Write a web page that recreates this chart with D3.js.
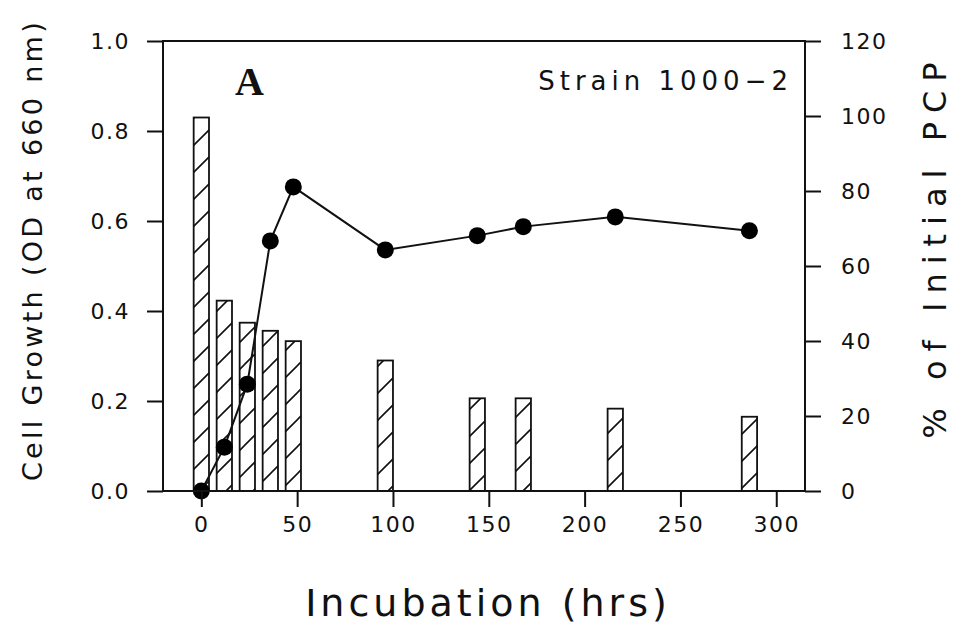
<!DOCTYPE html>
<html lang="en">
<head>
  <meta charset="UTF-8">
  <title>Strain 1000-2 growth and PCP</title>
  <script src="https://d3js.org/d3.v7.min.js"></script>
  <style>
    body {
      margin: 0;
      padding: 0;
      background-color: #fff;
    }
    svg text {
      font-family: "DejaVu Sans", sans-serif;
      fill: #111;
    }
  </style>
</head>
<body>
  <svg id="chart"></svg>

  <script>
    // values
    const hours = [0, 12, 24, 36, 48, 96, 144, 168, 216, 286];
    const cellGrowth = [0.830, 0.423, 0.374, 0.356, 0.333, 0.290, 0.206, 0.206, 0.183, 0.165];
    const pcpPercent = [0, 11.7, 28.5, 66.7, 81.1, 64.3, 68.1, 70.5, 73.1, 69.4];

    const xTicks = [0, 50, 100, 150, 200, 250, 300];
    const leftTicks = [0, 0.2, 0.4, 0.6, 0.8, 1.0];
    const rightTicks = [0, 20, 40, 60, 80, 100, 120];

    document.addEventListener("DOMContentLoaded", function() {
      const width = 959, height = 635;
      const margin = {top: 41, right: 154, bottom: 144, left: 163};
      const plotW = width - margin.left - margin.right;
      const plotH = height - margin.top - margin.bottom;

      const svg = d3.select("#chart")
                    .attr("width", width)
                    .attr("height", height);

      // hatch fill for the bars
      const defs = svg.append("defs");
      const pat = defs.append("pattern")
        .attr("id", "hatch")
        .attr("patternUnits", "userSpaceOnUse")
        .attr("width", 27)
        .attr("height", 27);
      pat.append("rect").attr("width", 27).attr("height", 27).attr("fill", "#fff");
      pat.append("path")
        .attr("d", "M0,27 L27,0 M-4,4 L4,-4 M23,31 L31,23")
        .attr("stroke", "#111")
        .attr("stroke-width", 1.6);

      const g = svg.append("g")
                   .attr("transform", `translate(${margin.left},${margin.top})`);

      const x = d3.scaleLinear().domain([-20, 315]).range([0, plotW]);
      const yLeft = d3.scaleLinear().domain([0, 1.0]).range([plotH, 0]);
      const yRight = d3.scaleLinear().domain([0, 120]).range([plotH, 0]);

      const barW = 8; // hours

      // bars: cell growth
      g.selectAll("rect.bar")
        .data(hours)
        .enter().append("rect")
        .attr("class", "bar")
        .attr("x", (d) => x(d - barW / 2))
        .attr("y", (d, i) => yLeft(cellGrowth[i]))
        .attr("width", x(barW / 2) - x(-barW / 2))
        .attr("height", (d, i) => plotH - yLeft(cellGrowth[i]))
        .attr("fill", "url(#hatch)")
        .attr("stroke", "#111")
        .attr("stroke-width", 1.8);

      // line + dots: % of initial PCP
      const pts = hours.map((h, i) => [h, pcpPercent[i]]);
      const line = d3.line()
        .x(d => x(d[0]))
        .y(d => yRight(d[1]));

      g.append("path")
        .datum(pts)
        .attr("d", line)
        .attr("fill", "none")
        .attr("stroke", "#111")
        .attr("stroke-width", 2);

      g.selectAll("circle.dot")
        .data(pts)
        .enter().append("circle")
        .attr("class", "dot")
        .attr("cx", d => x(d[0]))
        .attr("cy", d => yRight(d[1]))
        .attr("r", 8.5)
        .attr("fill", "#000");

      // axes
      const tickLen = 16;
      const xAxis = g.append("g")
        .attr("transform", `translate(0,${plotH})`)
        .call(d3.axisBottom(x).tickValues(xTicks).tickSize(tickLen).tickPadding(9));
      const leftAxis = g.append("g")
        .call(d3.axisLeft(yLeft).tickValues(leftTicks).tickSize(tickLen)
              .tickPadding(17).tickFormat(d3.format(".1f")));
      const rightAxis = g.append("g")
        .attr("transform", `translate(${plotW},0)`)
        .call(d3.axisRight(yRight).tickValues(rightTicks).tickSize(tickLen).tickPadding(20));

      [xAxis, leftAxis, rightAxis].forEach(ax => {
        ax.select(".domain").remove();
        ax.selectAll(".tick line").attr("stroke", "#111").attr("stroke-width", 2);
        ax.selectAll(".tick text")
          .attr("fill", "#111")
          .style("font-size", "22px")
          .style("letter-spacing", "1.5px");
      });

      // frame
      g.append("rect")
        .attr("width", plotW)
        .attr("height", plotH)
        .attr("fill", "none")
        .attr("stroke", "#111")
        .attr("stroke-width", 2);

      // labels
      g.append("text")
        .attr("x", 72)
        .attr("y", 54)
        .style("font-family", "'Liberation Serif', serif")
        .style("font-weight", "bold")
        .style("font-size", "40px")
        .text("A");

      g.append("text")
        .attr("x", plotW - 12)
        .attr("y", 49)
        .attr("text-anchor", "end")
        .style("font-size", "26px")
        .style("letter-spacing", "5px")
        .text("Strain 1000\u22122");

      svg.append("text")
        .attr("transform", `translate(42,250) rotate(-90)`)
        .attr("text-anchor", "middle")
        .style("font-size", "27px")
        .style("letter-spacing", "3.3px")
        .text("Cell Growth (OD at 660 nm)");

      svg.append("text")
        .attr("transform", `translate(946,246) rotate(-90)`)
        .attr("text-anchor", "middle")
        .style("font-size", "32px")
        .style("letter-spacing", "9px")
        .text("% of Initial PCP");

      svg.append("text")
        .attr("x", 488)
        .attr("y", 616)
        .attr("text-anchor", "middle")
        .style("font-size", "38px")
        .style("letter-spacing", "4px")
        .text("Incubation (hrs)");
    });
  </script>
</body>
</html>
